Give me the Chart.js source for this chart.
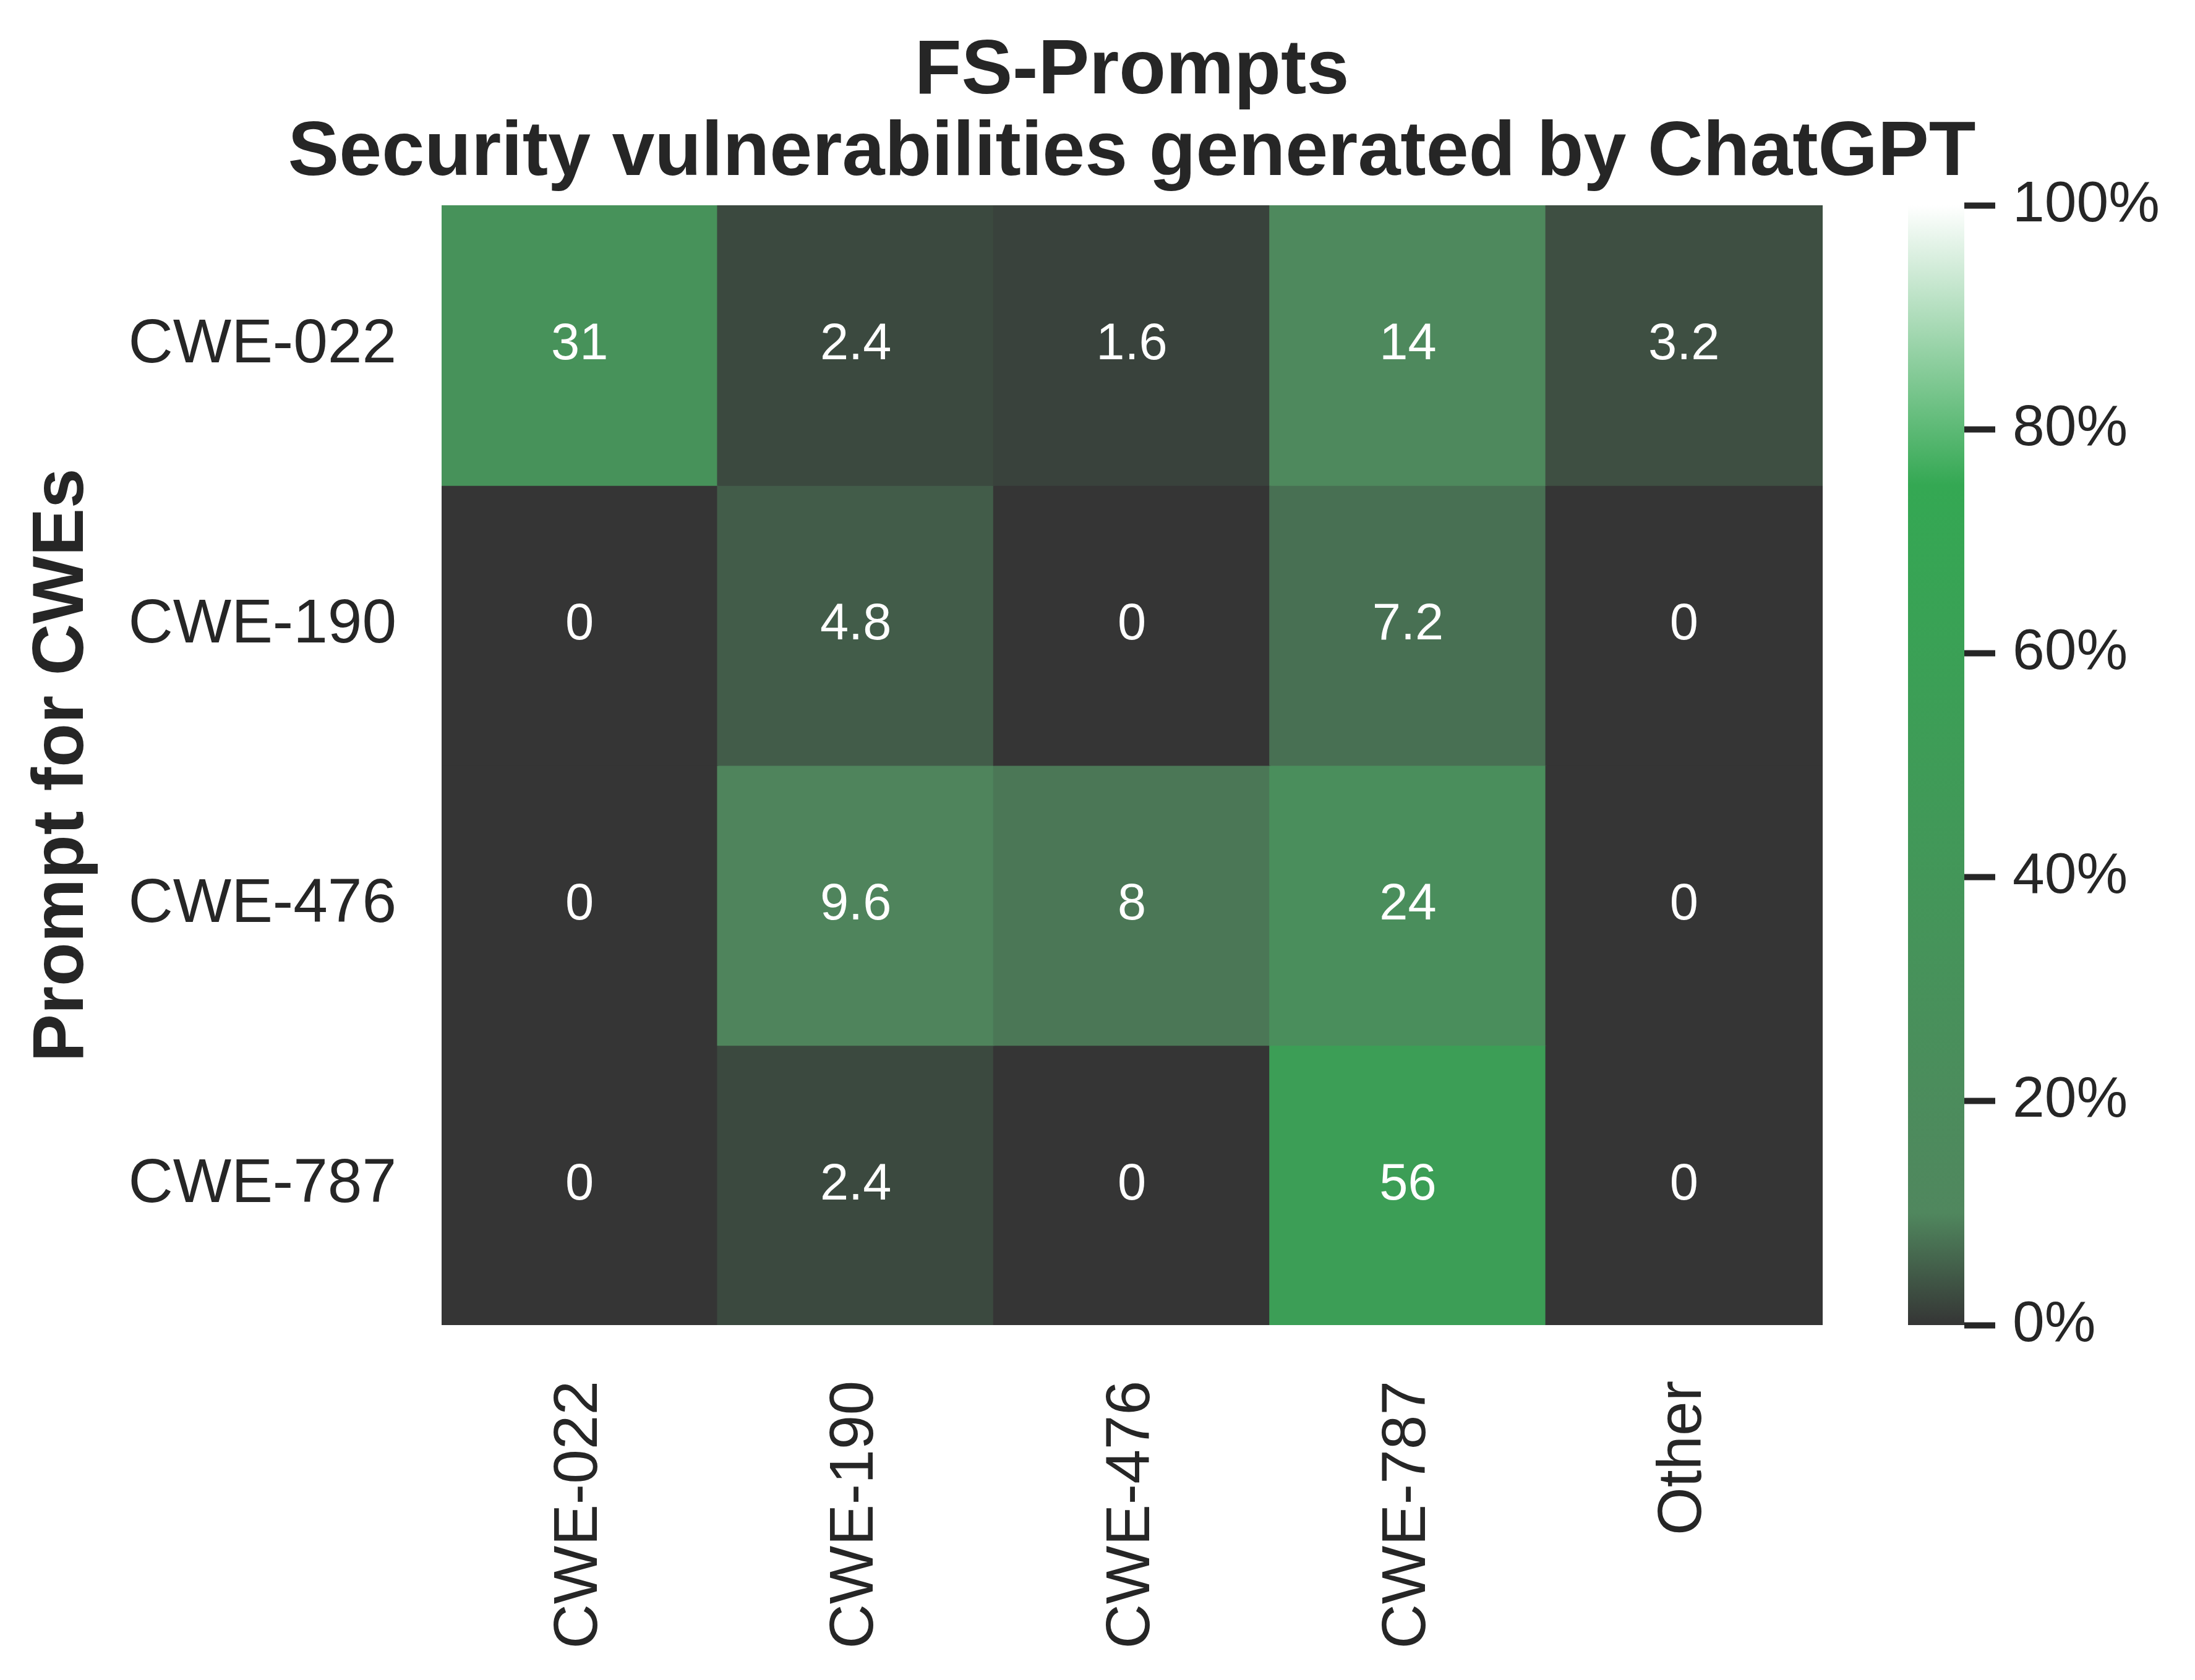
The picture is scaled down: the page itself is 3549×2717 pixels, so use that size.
<!DOCTYPE html>
<html>
<head>
<meta charset="utf-8">
<script src="https://cdn.jsdelivr.net/npm/chart.js@4.4.0/dist/chart.umd.min.js"></script>
<style>
html, body { margin: 0; padding: 0; background: #ffffff; }
canvas { display: block; }
</style>
</head>
<body>
<canvas id="c" width="3549" height="2717"></canvas>
<script>
// ---------------- data ----------------
const titleLines = ['FS-Prompts', 'Security vulnerabilities generated by ChatGPT'];
const yAxisTitle = 'Prompt for CWEs';
const rowLabels = ['CWE-022', 'CWE-190', 'CWE-476', 'CWE-787'];
const colLabels = ['CWE-022', 'CWE-190', 'CWE-476', 'CWE-787', 'Other'];
const promptCwe022 = [31.2, 2.4, 1.6, 13.6, 3.2];
const promptCwe190 = [0, 4.8, 0, 7.2, 0];
const promptCwe476 = [0, 9.6, 8, 24, 0];
const promptCwe787 = [0, 2.4, 0, 56, 0];
const rowValues = [promptCwe022, promptCwe190, promptCwe476, promptCwe787];
const colorbarMin = 0;
const colorbarMax = 100;
const colorbarStep = 20;

// ---------------- style ----------------
const INK = '#262626';
const FONT = "'Liberation Sans', Arial, Helvetica, sans-serif";
const CMAP = [
  [0,   [53, 53, 53]],
  [10,  [80, 135, 94]],
  [75,  [52, 168, 83]],
  [100, [255, 255, 255]]
];
function cmap(v) {
  const t = Math.max(colorbarMin, Math.min(colorbarMax, v));
  for (let k = 1; k < CMAP.length; k++) {
    const [p1, c1] = CMAP[k];
    const [p0, c0] = CMAP[k - 1];
    if (t <= p1) {
      const f = (t - p0) / (p1 - p0);
      const c = c0.map((a, i) => Math.round(a + (c1[i] - a) * f));
      return `rgb(${c[0]},${c[1]},${c[2]})`;
    }
  }
  const c = CMAP[CMAP.length - 1][1];
  return `rgb(${c[0]},${c[1]},${c[2]})`;
}
function fmt2g(v) { return String(Number(v.toPrecision(2))); }

const CHART_TOP = 332;
const LEFT_W = 714;
const BOTTOM_H = 574;
const RIGHT_W = 373;
const X_MAX = 5.5152;      // heatmap columns + gap + colorbar, in cell units
const CB_WIDTH = 91;

const datasets = rowValues.map((vals, i) => ({
  label: rowLabels[i],
  data: vals.map((v, j) => ({ x: j + 0.5, y: [i, i + 1] })),
  backgroundColor: vals.map(v => cmap(v)),
  borderWidth: 0,
  inflateAmount: 1,
  grouped: false,
  barPercentage: 1,
  categoryPercentage: 1,
  xAxisID: 'x',
  yAxisID: 'y'
}));

const annotatePlugin = {
  id: 'annotate',
  afterDatasetsDraw(chart) {
    const ctx = chart.ctx;
    ctx.save();
    ctx.fillStyle = '#ffffff';
    ctx.font = `83px ${FONT}`;
    ctx.textAlign = 'center';
    ctx.textBaseline = 'middle';
    chart.data.datasets.forEach((ds, i) => {
      const meta = chart.getDatasetMeta(i);
      meta.data.forEach((bar, j) => {
        ctx.fillText(fmt2g(rowValues[i][j]), bar.x, (bar.y + bar.base) / 2);
      });
    });
    ctx.restore();
  }
};

const colorbarPlugin = {
  id: 'colorbar',
  beforeDatasetsDraw(chart) {
    const ctx = chart.ctx;
    const cb = chart.scales.cb;
    const y0 = cb.getPixelForValue(colorbarMin);
    const y1 = cb.getPixelForValue(colorbarMax);
    const g = ctx.createLinearGradient(0, y0, 0, y1);
    CMAP.forEach(([p, c]) => g.addColorStop((p - colorbarMin) / (colorbarMax - colorbarMin), `rgb(${c[0]},${c[1]},${c[2]})`));
    ctx.save();
    ctx.fillStyle = g;
    const right = chart.chartArea.right;
    ctx.fillRect(right - CB_WIDTH, y1, CB_WIDTH, y0 - y1);
    ctx.restore();
  }
};

const titlePlugin = {
  id: 'heatTitle',
  afterDraw(chart) {
    const ctx = chart.ctx;
    const xs = chart.scales.x;
    const cx = (xs.getPixelForValue(0) + xs.getPixelForValue(colLabels.length)) / 2;
    ctx.save();
    ctx.fillStyle = INK;
    ctx.font = `bold 124px ${FONT}`;
    ctx.textAlign = 'center';
    ctx.textBaseline = 'alphabetic';
    const baselines = [151, 283];
    titleLines.forEach((t, i) => ctx.fillText(t, cx, baselines[i]));
    ctx.restore();
  }
};

new Chart(document.getElementById('c'), {
  type: 'bar',
  data: { datasets },
  options: {
    responsive: false,
    devicePixelRatio: 1,
    animation: false,
    events: [],
    layout: { padding: { top: CHART_TOP, left: 0, right: 0, bottom: 0 } },
    plugins: {
      legend: { display: false },
      tooltip: { enabled: false },
      title: { display: false }
    },
    scales: {
      x: {
        type: 'linear',
        position: 'bottom',
        offset: false,
        bounds: 'ticks',
        min: 0,
        max: X_MAX,
        grid: { display: false, drawTicks: false, offset: false },
        border: { display: false },
        afterBuildTicks(scale) { scale.ticks = colLabels.map((_, j) => ({ value: j + 0.5 })); },
        afterFit(scale) {
          scale.height = BOTTOM_H;
          scale.paddingLeft = 0;
          scale.paddingRight = 0;
        },
        ticks: {
          autoSkip: false,
          minRotation: 90,
          maxRotation: 90,
          padding: 90,
          color: INK,
          font: { family: FONT, size: 100 },
          callback: (v, i) => colLabels[i]
        }
      },
      y: {
        type: 'linear',
        position: 'left',
        offset: false,
        min: 0,
        max: rowLabels.length,
        reverse: true,
        grid: { display: false, drawTicks: false },
        border: { display: false },
        afterBuildTicks(scale) { scale.ticks = rowLabels.map((_, i) => ({ value: i + 0.5 })); },
        afterFit(scale) {
          scale.width = LEFT_W;
          scale.paddingTop = 0;
          scale.paddingBottom = 0;
        },
        ticks: {
          autoSkip: false,
          padding: 73,
          color: INK,
          font: { family: FONT, size: 100 },
          callback: (v, i) => rowLabels[i]
        },
        title: {
          display: true,
          text: yAxisTitle,
          color: INK,
          font: { family: FONT, size: 116, weight: 'bold', lineHeight: 1.2 },
          padding: { top: 32, bottom: 0 }
        }
      },
      cb: {
        type: 'linear',
        axis: 'y',
        position: 'right',
        offset: false,
        min: colorbarMin,
        max: colorbarMax,
        grid: {
          display: true,
          drawOnChartArea: false,
          drawTicks: true,
          tickLength: 50,
          tickWidth: 10,
          tickColor: INK
        },
        border: { display: false },
        afterFit(scale) {
          scale.width = RIGHT_W;
          scale.paddingTop = 0;
          scale.paddingBottom = 0;
        },
        ticks: {
          stepSize: colorbarStep,
          padding: 28,
          color: INK,
          font: { family: FONT, size: 93 },
          callback: v => v + '%'
        }
      }
    }
  },
  plugins: [colorbarPlugin, annotatePlugin, titlePlugin]
});
</script>
</body>
</html>
